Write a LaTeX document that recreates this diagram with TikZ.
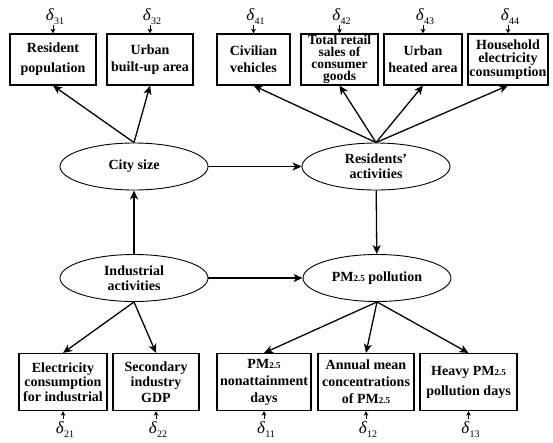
\documentclass[tikz,border=0pt]{standalone}
\usepackage{fontspec}
\setmainfont{Liberation Serif}
\usetikzlibrary{shapes.geometric,arrows.meta}
\newcommand\pmsub{PM{\fontsize{9}{9}\selectfont 2.5}}
\newcommand\dl[1]{\textit{δ}\raisebox{-4pt}{\fontsize{10}{10}\selectfont #1}}
\tikzset{
  boxnode/.style={draw, line width=1.1pt, align=center, inner sep=0pt,
    font=\bfseries\fontsize{14}{15}\selectfont},
  ellnode/.style={draw, ellipse, line width=0.9pt, align=center, inner sep=0pt,
    minimum width=148pt, minimum height=47pt, font=\bfseries\fontsize{14}{15}\selectfont},
  conn/.style={line width=1.3pt, -{Stealth[length=9pt,width=8pt,inset=2.5pt]}},
  darr/.style={line width=0.9pt, -{Stealth[length=4.5pt,width=4.5pt,inset=1pt]}},
  dnode/.style={inner sep=0pt, anchor=base, font=\fontsize{17}{17}\selectfont}
}
\begin{document}
\begin{tikzpicture}[x=1pt,y=-1pt]
\useasboundingbox (0,0) rectangle (553,442);
% top boxes
\node[boxnode, minimum width=86pt, minimum height=51pt, font=\bfseries\fontsize{14}{20}\selectfont] (r1) at (53,59.5) {Resident\\population};
\node[boxnode, minimum width=86pt, minimum height=51pt, font=\bfseries\fontsize{14}{17}\selectfont] (r2) at (150,59.5) {Urban\\built-up area};
\node[boxnode, minimum width=73pt, minimum height=51pt, font=\bfseries\fontsize{14}{17}\selectfont] (r3) at (253.5,59.5) {Civilian\\vehicles};
\node[boxnode, minimum width=77pt, minimum height=51pt, font=\bfseries\fontsize{13.5}{12.2}\selectfont] (r4) at (339.5,59.5) {Total retail\\sales of\\consumer\\goods};
\node[boxnode, minimum width=78pt, minimum height=51pt, font=\bfseries\fontsize{14}{17}\selectfont] (r5) at (423,59.5) {Urban\\heated area};
\node[boxnode, minimum width=80pt, minimum height=51pt, font=\bfseries\fontsize{14}{13.5}\selectfont] (r6) at (508,59.5) {Household\\electricity\\consumption};
% top deltas
\node[dnode] (d31) at (55,20) {\dl{31}};
\node[dnode] (d32) at (152,20) {\dl{32}};
\node[dnode] (d41) at (255.5,20) {\dl{41}};
\node[dnode] (d42) at (341.5,20) {\dl{42}};
\node[dnode] (d43) at (425,20) {\dl{43}};
\node[dnode] (d44) at (510,20) {\dl{44}};
\foreach \d/\b in {d31/r1,d32/r2,d41/r3,d42/r4,d43/r5,d44/r6}
  \draw[darr] (\d.south -| \b.north) ++(0,1) -- (\b.north);
% ellipses
\node[ellnode] (cs) at (134,166.5) {City size};
\node[ellnode] (ra) at (376,166.5) {Residents’\\activities};
\node[ellnode] (ia) at (134,278) {Industrial\\activities};
\node[ellnode] (pm) at (377,278) {\pmsub{} pollution};
% bottom boxes
\node[boxnode, minimum width=88pt, minimum height=57pt, font=\bfseries\fontsize{14}{14.5}\selectfont] (b1) at (63,382) {Electricity\\consumption\\for industrial};
\node[boxnode, minimum width=86pt, minimum height=57pt, font=\bfseries\fontsize{14}{15.5}\selectfont] (b2) at (156,382) {Secondary\\industry\\GDP};
\node[boxnode, minimum width=94pt, minimum height=57pt, font=\bfseries\fontsize{14}{17}\selectfont] (b3) at (264,382) {\pmsub\\nonattainment\\days};
\node[boxnode, minimum width=96pt, minimum height=57pt, font=\bfseries\fontsize{14}{17}\selectfont] (b4) at (366,382) {Annual mean\\concentrations\\of \pmsub};
\node[boxnode, minimum width=97pt, minimum height=57pt, font=\bfseries\fontsize{14}{20}\selectfont] (b5) at (468.5,382) {Heavy \pmsub\\pollution days};
% bottom deltas
\node[dnode] (d21) at (65,433) {\dl{21}};
\node[dnode] (d22) at (158,433) {\dl{22}};
\node[dnode] (d11) at (266,433) {\dl{11}};
\node[dnode] (d12) at (368,433) {\dl{12}};
\node[dnode] (d13) at (470.5,433) {\dl{13}};
\foreach \d/\b in {d21/b1,d22/b2,d11/b3,d12/b4,d13/b5}
  \draw[darr] (\d.north -| \b.south) ++(0,-2) -- (\b.south);
% connectors
\draw[conn] (cs.north) -- (r1.south);
\draw[conn] (cs.north) -- (r2.south);
\draw[conn] (ra.north) -- (r3.south);
\draw[conn] (ra.north) -- (r4.south);
\draw[conn] (ra.north) -- (r5.south);
\draw[conn] (ra.north) -- (r6.south);
\draw[conn] (cs) -- (ra);
\draw[conn] (ia) -- (cs);
\draw[conn] (ia) -- (pm);
\draw[conn] (ra) -- (pm);
\draw[conn] (ia.south) -- (b1.north);
\draw[conn] (ia.south) -- (b2.north);
\draw[conn] (pm.south) -- (b3.north);
\draw[conn] (pm.south) -- (b4.north);
\draw[conn] (pm.south) -- (b5.north);
\end{tikzpicture}
\end{document}
